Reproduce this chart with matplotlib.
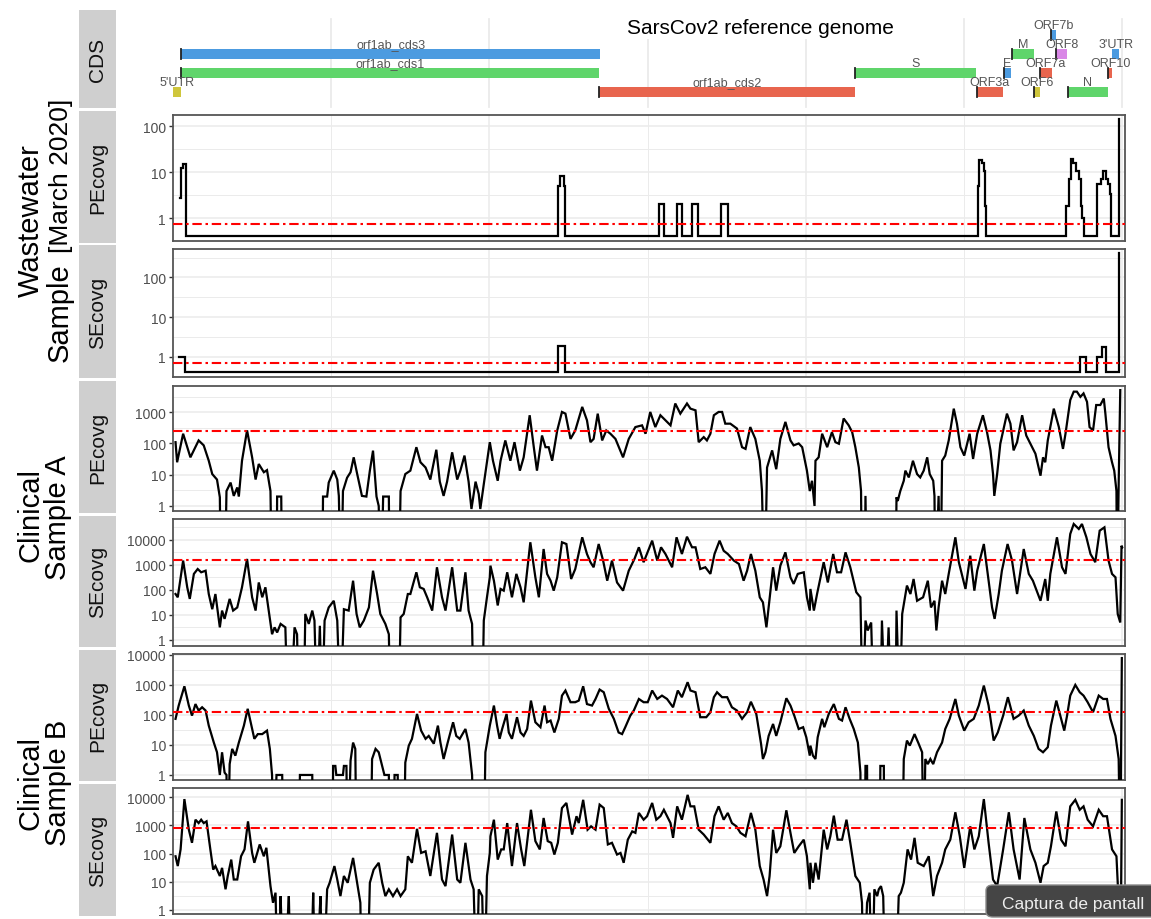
import matplotlib

matplotlib.use("Agg")
import matplotlib.pyplot as plt
import numpy as np
from matplotlib.patches import Rectangle, FancyBboxPatch
from matplotlib.ticker import FixedLocator, FixedFormatter, NullLocator

plt.rcParams['font.family'] = ['Liberation Sans', 'DejaVu Sans']

# ── reference genome features (bp) ────────────────────────────────────────
cds_names = ["5'UTR", "orf1ab_cds3", "orf1ab_cds1", "orf1ab_cds2", "S", "ORF3a", "E",
             "M", "ORF6", "ORF7a", "ORF7b", "ORF8", "N", "ORF10", "3'UTR"]
cds_start = [1, 266, 266, 13468, 21563, 25393, 26245, 26523, 27202, 27394, 27756,
             27894, 28274, 29558, 29675]
cds_end = [265, 13483, 13468, 21555, 25384, 26220, 26472, 27191, 27387, 27759, 27887,
           28259, 29533, 29674, 29903]
cds_row = [1, 3, 2, 1, 2, 1, 2, 3, 1, 2, 4, 3, 1, 2, 3]

COL = {"5'UTR": "#CFC63C", "orf1ab_cds3": "#4C9BE0", "orf1ab_cds1": "#5FD56B",
       "orf1ab_cds2": "#E8654E", "S": "#5FD56B", "ORF3a": "#E8654E", "E": "#4C9BE0",
       "M": "#5FD56B", "ORF6": "#CFC63C", "ORF7a": "#E8654E", "ORF7b": "#4C9BE0",
       "ORF8": "#D987E6", "N": "#5FD56B", "ORF10": "#E8654E", "3'UTR": "#4C9BE0"}

# ── wastewater coverage (bp, depth; step data) ───────────────────────────
ww_pe_pos = [234, 265, 329, 423, 12180, 12225, 12370, 12400, 15350, 15500, 15910,
             16070, 16410, 16600, 17300, 17550, 25440, 25480, 25570, 25620, 25670,
             25700, 28231, 28304, 28358, 28443, 28516, 28620, 28674, 28728, 28778,
             29202, 29306, 29391, 29464, 29537, 29600, 29644, 29890, 29903]
ww_pe_cov = [2.7, 12, 15, 0, 5, 8, 5, 0, 2, 0, 2, 0, 2, 0, 2, 0, 5, 18, 16, 10.7,
             1.85, 0, 1.85, 7, 19, 16, 10.7, 7, 1.85, 1, 0, 5.5, 7, 10.7, 7, 5.5, 3.3,
             0, 141, 141]
ww_se_pos = [200, 392, 12180, 12400, 28652, 28832, 29202, 29360, 29464, 29890, 29903]
ww_se_cov = [1, 0, 1.9, 0, 1, 0, 1, 1.8, 0, 415, 415]

# ── clinical sample A (kb, depth) ────────────────────────────────────────
ca_pe_kb = [0.08, 0.13, 0.32, 0.55, 0.81, 0.97, 1.13, 1.24, 1.39, 1.48, 1.52, 1.63, 1.69,
            1.82, 1.92, 2.03, 2.08, 2.18, 2.34, 2.50, 2.61, 2.71, 2.87, 2.97, 3.08, 3.13,
            3.27, 3.29, 3.42, 3.45, 4.71, 4.74, 4.87, 4.92, 5.08, 5.19, 5.24, 5.31, 5.37,
            5.50, 5.61, 5.71, 5.82, 5.97, 6.11, 6.22, 6.32, 6.43, 6.50, 6.57, 6.64, 6.82,
            6.85, 7.13, 7.19, 7.34, 7.50, 7.69, 7.82, 7.98, 8.13, 8.32, 8.43, 8.55, 8.66,
            8.82, 8.98, 9.08, 9.21, 9.34, 9.43, 9.56, 9.66, 9.71, 9.82, 10.01,
            10.11, 10.26, 10.35, 10.50, 10.66, 10.79, 10.96, 11.08, 11.27, 11.40, 11.50,
            11.66, 11.77, 11.87, 11.98, 12.14, 12.29, 12.40, 12.56, 12.71, 12.93, 13.08,
            13.19, 13.29, 13.42, 13.56, 13.69, 13.82, 13.98, 14.22, 14.40, 14.61, 14.82,
            14.93, 15.08, 15.24, 15.40, 15.56, 15.72, 15.87, 16.03, 16.24, 16.35, 16.51,
            16.61, 16.77, 16.87, 16.98, 17.09, 17.24, 17.35, 17.45, 17.61, 17.82, 17.98,
            18.09, 18.24, 18.40, 18.54, 18.61, 18.69, 18.77, 18.93, 19.06, 19.19, 19.35,
            19.51, 19.61, 19.77, 19.88, 20.03, 20.12,
            20.19, 20.27, 20.30, 20.40, 20.51, 20.67, 20.82, 20.93, 21.04, 21.19, 21.35,
            21.46, 21.56, 21.67, 21.74, 21.77, 21.85, 21.88, 21.93, 22.83, 22.86, 22.90,
            22.98, 23.09, 23.14, 23.25, 23.38, 23.51, 23.61, 23.72, 23.83, 23.91, 24.02,
            24.06, 24.09, 24.19, 24.25, 24.30, 24.40, 24.51, 24.67, 24.77, 24.88, 25.00,
            25.17, 25.28, 25.41, 25.59, 25.72, 25.83, 25.91, 25.95, 26.04, 26.14, 26.35,
            26.46, 26.56, 26.67, 26.83, 26.96, 27.09, 27.25, 27.41, 27.49, 27.56, 27.64,
            27.83, 27.99, 28.12, 28.20, 28.35, 28.46, 28.56, 28.67, 28.77, 28.88, 28.96,
            29.07, 29.17, 29.30, 29.41, 29.46, 29.56, 29.67, 29.74, 29.81, 29.83, 29.88,
            29.93]
ca_pe_cov = [110, 25, 205, 36, 125, 87, 28, 10.5, 7, 1.9, 0, 0, 3, 5.6, 2.1, 3.9, 2, 28,
             263, 36, 7, 22, 12, 14, 3, 0, 0, 2, 2, 0, 0, 2, 2, 5.6, 13.5, 7, 2.1, 0, 3,
             8, 12, 36, 10.5, 2.1, 2, 13.5, 59, 2, 1, 0, 2, 2, 0, 0, 3, 10.5, 13.5, 76,
             25, 17, 7, 63, 6, 2.1, 6, 52, 7, 13.5, 41, 6, 0.8, 6, 2.4, 0.8, 5, 110,
             28, 6.4, 28, 125, 28, 110, 13.5, 36, 800, 76, 13.5, 180, 76, 76, 28, 260,
             1020, 900, 140, 260, 1480, 550, 110, 140, 900, 125, 260, 205, 140, 36, 140,
             335, 380, 205, 1020, 335, 800, 550, 380, 1900, 900, 1900, 1300, 1150, 110,
             160, 125, 205, 800, 1020, 1020, 430, 430, 300, 76, 67, 335, 140, 28, 3, 0,
             17, 60, 15, 140, 490, 125, 87, 100, 76, 13.5, 3,
             6.4, 1, 28, 36, 205, 76, 230, 110, 98, 630, 380, 230, 76, 17, 3, 0, 0, 2.1,
             0, 0, 1.9, 1.45, 3, 6.4, 13.5, 8.2, 28, 10.5, 8.2, 13.5, 36, 10.5, 6.4, 2.1,
             0, 2.1, 0, 28, 41, 125, 1300, 430, 76, 41, 205, 32, 205, 800, 230, 60, 10.5,
             2.1, 10.5, 98, 900, 430, 60, 110, 800, 180, 98, 47, 9.3, 36, 25, 125, 1300,
             335, 67, 205, 2450, 4550, 4550, 3100, 4000, 2150, 335, 260, 1700, 1700, 2750,
             900, 76, 25, 13.5, 3, 0, 5, 5100]

ca_se_kb = [0.08, 0.15, 0.32, 0.45, 0.53, 0.66, 0.78, 0.89, 1.03, 1.13, 1.24, 1.34, 1.48,
            1.55, 1.63, 1.79, 1.90, 2.03, 2.18, 2.34, 2.50, 2.61, 2.71, 2.82, 2.92, 3.06,
            3.13, 3.21, 3.29, 3.40, 3.55, 3.63, 3.71, 3.84, 3.92, 3.97, 4.13, 4.18, 4.29,
            4.40, 4.47, 4.55, 4.64, 4.71, 4.79, 4.92, 5.08, 5.19, 5.29, 5.40, 5.55, 5.69,
            5.80, 5.90, 6.03, 6.19, 6.32, 6.45, 6.55, 6.71, 6.82, 6.87, 7.13, 7.19, 7.29,
            7.42, 7.50, 7.69, 7.80, 7.92, 8.03, 8.19, 8.34, 8.50, 8.61, 8.82, 8.98, 9.08,
            9.24, 9.34, 9.45, 9.50, 9.77, 9.82, 9.92, 10.01,
            10.03, 10.14, 10.26, 10.35, 10.45, 10.56, 10.71, 10.85, 10.98, 11.08, 11.29,
            11.45, 11.56, 11.71, 11.82, 11.93, 12.03, 12.14, 12.29, 12.43, 12.58, 12.71,
            12.93, 13.08, 13.19, 13.29, 13.45, 13.59, 13.72, 13.87, 14.03, 14.22, 14.40,
            14.58, 14.72, 14.87, 15.14, 15.30, 15.42, 15.56, 15.77, 15.91, 16.08, 16.24,
            16.40, 16.51, 16.66, 16.82, 16.98, 17.11, 17.27, 17.40, 17.53, 17.72, 17.88,
            18.03, 18.14, 18.26, 18.40, 18.54, 18.64, 18.75, 18.82, 18.96, 19.06, 19.19,
            19.35, 19.51, 19.61, 19.74, 19.93, 20.03, 20.12,
            20.14, 20.25, 20.35, 20.46, 20.56, 20.69, 20.86, 20.98, 21.11, 21.25, 21.40,
            21.59, 21.72, 21.79, 21.88, 21.95, 22.06, 22.14, 22.35, 22.40, 22.51, 22.61,
            22.69, 22.83, 22.86, 22.96, 23.04, 23.19, 23.30, 23.40, 23.51, 23.70, 23.85,
            23.95, 24.06, 24.12, 24.19, 24.30, 24.40, 24.51, 24.72, 24.83, 25.04, 25.19,
            25.32, 25.41, 25.62, 25.77, 25.88, 25.96, 26.09, 26.19, 26.37, 26.51, 26.67,
            26.88, 27.04, 27.17, 27.41, 27.56, 27.64, 27.72, 27.93, 28.09, 28.20, 28.35,
            28.46, 28.62, 28.72, 28.86, 28.99, 29.14, 29.28, 29.43, 29.56, 29.67, 29.78,
            29.85, 29.93, 29.97, 29.99]
ca_se_cov = [69, 51, 1500, 128, 44, 440, 690, 510, 590, 69, 17, 69, 3.2, 15, 7, 44, 15,
             20, 128, 1740, 51, 15, 200, 51, 128, 7, 1.7, 3.2, 2, 4.4, 3.2, 0, 0, 3.2,
             1.7, 0, 0, 11, 4.4, 15, 6, 0, 3.7, 0, 6, 20, 37, 6, 0, 17, 15, 235, 11, 3.2,
             6, 20, 590, 69, 11, 4.4, 1.7, 0, 0, 8, 11, 69, 69, 510, 128, 110, 51, 15,
             810, 51, 15, 810, 15, 15, 510, 15, 4.4, 0, 0, 6, 51, 320,
             940, 235, 24, 110, 94, 510, 51, 440, 128, 32, 8100, 320, 51, 4350, 440, 235,
             94, 320, 8100, 6900, 275, 690, 12800, 2750, 1290, 810, 6900, 1500, 235,
             1500, 200, 94, 590, 1740, 5100, 1290, 9400, 1500, 5100, 2750, 810, 12800,
             2750, 13500, 5100, 5100, 690, 810, 440, 2750, 9400, 3700, 2750, 1500, 1100,
             235, 590, 2750, 590, 51, 32, 3.2, 20, 810, 94, 940, 3200, 320, 175, 440, 510,
             51, 15,
             110, 15, 69, 320, 1290, 200, 2750, 510, 510, 3200, 810, 81, 51, 0, 6, 2.4, 5,
             0, 0, 6, 0, 3.2, 0, 0, 15, 0, 11, 150, 69, 275, 37, 51, 235, 20, 37, 2.4, 20,
             235, 69, 440, 12800, 1290, 110, 2350, 94, 590, 6900, 235, 20, 7, 69, 590,
             6900, 1500, 69, 4350, 440, 235, 37, 275, 37, 440, 12800, 810, 440, 17400,
             43600, 27600, 43600, 12800, 2750, 1290, 23600, 32000, 1500, 440, 320, 11, 5,
             5900, 5100]

# ── clinical sample B (kb, depth) ────────────────────────────────────────
cb_pe_kb = [0.08, 0.18, 0.36, 0.50, 0.60, 0.71, 0.81, 0.92, 1.03, 1.13, 1.29, 1.39, 1.48,
            1.55, 1.63, 1.69, 1.73, 1.79, 1.87, 1.97, 2.08, 2.24, 2.36, 2.50, 2.57, 2.68,
            2.82, 2.97, 3.06, 3.13, 3.18, 3.27, 3.45, 3.50, 3.97, 4.01, 4.40, 4.43, 5.03,
            5.06, 5.13, 5.16, 5.37, 5.40, 5.48, 5.52, 5.61, 5.69, 5.76, 5.80, 6.24, 6.29,
            6.40, 6.50, 6.61, 6.68, 6.82, 6.85, 6.98, 7.00, 7.10, 7.13, 7.29, 7.34, 7.45,
            7.55, 7.71, 7.84, 7.98, 8.08, 8.24, 8.37, 8.45, 8.55, 8.68, 8.85, 8.95, 9.06,
            9.24, 9.34, 9.45, 9.52, 9.82, 9.87, 10.01,
            10.14, 10.24, 10.32, 10.40, 10.54, 10.61, 10.71, 10.87, 10.98, 11.08, 11.19,
            11.31, 11.45, 11.61, 11.74, 11.82, 11.93, 12.05, 12.19, 12.29, 12.40, 12.56,
            12.71, 12.82, 12.96, 13.08, 13.24, 13.35, 13.48, 13.61, 13.77, 13.93, 14.08,
            14.19, 14.29, 14.45, 14.56, 14.72, 14.87, 15.00, 15.14, 15.30, 15.45, 15.61,
            15.80, 15.95, 16.08, 16.26, 16.35, 16.51, 16.66, 16.85, 16.98, 17.09, 17.19,
            17.35, 17.51, 17.66, 17.82, 17.98, 18.14, 18.26, 18.43, 18.58, 18.64, 18.72,
            18.82, 18.96, 19.06, 19.19, 19.38, 19.51, 19.63, 19.77, 19.91, 20.01, 20.12,
            20.14, 20.22, 20.30, 20.37, 20.51, 20.58, 20.72, 20.88, 21.04, 21.14, 21.25,
            21.38, 21.51, 21.64, 21.72, 21.74, 21.85, 21.88, 21.93, 21.95, 22.33, 22.35,
            22.46, 22.48, 23.04, 23.09, 23.19, 23.28, 23.43, 23.56, 23.67, 23.72, 23.77,
            23.85, 23.93, 24.02, 24.14, 24.30, 24.40, 24.54, 24.72, 24.83, 25.00, 25.14,
            25.30, 25.46, 25.62, 25.77, 25.93, 26.06, 26.23, 26.38, 26.56, 26.72, 26.88,
            27.04, 27.20, 27.35, 27.49, 27.64, 27.74, 27.91, 28.06, 28.16, 28.25, 28.35,
            28.51, 28.65, 28.77, 28.90, 29.07, 29.25, 29.39, 29.51, 29.62, 29.78, 29.88,
            29.93, 29.98]
cb_pe_cov = [74, 205, 900, 205, 95, 230, 140, 180, 140, 44, 12, 5.7, 1, 5.7, 1.2, 1, 0,
             2.3, 7.4, 4.4, 12, 44, 160, 34, 16, 23, 23, 30, 7.4, 1, 0, 1, 1, 0, 0, 1, 1,
             0, 0, 2, 2, 1, 1, 2, 2, 0, 3, 12, 7.4, 0, 0, 3.4, 7.4, 5.7, 2, 1, 1, 0, 0,
             1, 1, 0, 0, 2.6, 9.5, 16, 108, 30, 16, 20, 11, 44, 12, 3.4, 12, 57, 20, 16,
             34, 12, 1, 0, 0, 5.7, 44,
             205, 44, 16, 34, 108, 26, 16, 84, 26, 20, 34, 300, 57, 39, 205, 57, 65, 26,
             74, 440, 650, 265, 265, 300, 900, 230, 205, 340, 700, 570, 160, 74, 26, 23,
             39, 95, 140, 340, 265, 265, 650, 340, 440, 340, 180, 650, 390, 1230, 650,
             570, 84, 84, 123, 390, 570, 390, 390, 180, 140, 74, 123, 275, 108, 11, 3.4,
             5.7, 20, 50, 20, 57, 360, 205, 95, 34, 39, 18, 4.4,
             9.5, 4.4, 3.4, 18, 74, 39, 108, 230, 74, 65, 180, 74, 34, 12, 1.2, 0, 0, 2, 2,
             0, 0, 2, 2, 0, 0, 3.4, 14, 9.5, 23, 11, 5.7, 0, 3.4, 2.3, 3.4, 2.3, 5.7, 12,
             34, 74, 340, 95, 30, 57, 74, 205, 950, 205, 14, 26, 95, 390, 74, 95, 140, 44,
             20, 7.4, 5.7, 8.4, 44, 300, 74, 30, 95, 440, 1000, 570, 440, 265, 123, 440,
             340, 340, 74, 20, 3.4, 0, 7800]

cb_se_kb = [0.08, 0.15, 0.24, 0.36, 0.50, 0.60, 0.71, 0.81, 0.89, 0.97, 1.06, 1.18, 1.27,
            1.34, 1.48, 1.55, 1.66, 1.73, 1.84, 1.92, 2.03, 2.15, 2.26, 2.37, 2.50, 2.57,
            2.74, 2.87, 2.95, 3.08, 3.16, 3.24, 3.31, 3.40, 3.50, 3.66, 3.73, 4.34, 4.43,
            4.50, 4.66, 4.74, 4.87, 4.95, 5.10, 5.19, 5.29, 5.40, 5.52, 5.69, 5.80, 5.92,
            5.97, 6.13, 6.22, 6.34, 6.50, 6.61, 6.71, 6.82, 6.95, 7.08, 7.19, 7.34, 7.42,
            7.55, 7.71, 7.84, 7.98, 8.13, 8.34, 8.50, 8.61, 8.82, 8.98, 9.08, 9.24, 9.40,
            9.50, 9.59, 9.66, 9.77, 9.84, 9.92, 10.01,
            10.03, 10.14, 10.26, 10.37, 10.45, 10.56, 10.71, 10.87, 11.00, 11.10, 11.31,
            11.45, 11.59, 11.71, 11.84, 11.95, 12.05, 12.16, 12.29, 12.43, 12.61, 12.75,
            12.82, 12.96, 13.10, 13.21, 13.35, 13.48, 13.61, 13.74, 13.87, 14.03, 14.14,
            14.24, 14.37, 14.51, 14.61, 14.72, 14.87, 14.98, 15.14, 15.27, 15.40, 15.51,
            15.72, 15.80, 15.93, 16.08, 16.26, 16.35, 16.47, 16.61, 16.77, 16.98, 17.11,
            17.24, 17.40, 17.53, 17.66, 17.80, 17.93, 18.09, 18.26, 18.40, 18.54, 18.66,
            18.77, 18.85, 18.96, 19.06, 19.19, 19.38, 19.51, 19.63, 19.77, 19.93, 20.03,
            20.12,
            20.14, 20.22, 20.30, 20.40, 20.56, 20.67, 20.77, 20.88, 21.00, 21.14, 21.28,
            21.40, 21.56, 21.70, 21.77, 21.82, 21.93, 22.01, 22.09, 22.16, 22.25, 22.30,
            22.37, 22.44, 22.51, 22.83, 22.93, 23.00, 23.09, 23.21, 23.32, 23.43, 23.53,
            23.72, 23.88, 24.02, 24.14, 24.30, 24.40, 24.56, 24.72, 24.86, 25.00, 25.19,
            25.32, 25.46, 25.62, 25.77, 25.91, 26.04, 26.23, 26.41, 26.56, 26.75, 26.90,
            27.09, 27.25, 27.41, 27.51, 27.64, 27.74, 27.91, 28.06, 28.20, 28.35, 28.51,
            28.65, 28.77, 28.90, 29.07, 29.25, 29.39, 29.51, 29.67, 29.81, 29.88, 29.93,
            29.98]
cb_se_cov = [80, 36, 140, 8500, 700, 240, 1580, 1200, 1580, 1200, 1380, 140, 27, 36, 16,
             31, 5.4, 16, 61, 12, 12, 80, 140, 1380, 105, 47, 210, 80, 160, 7, 1.8, 4.1,
             0, 3.1, 0, 3.1, 0, 0, 4.1, 0, 3.1, 0, 5.4, 9.2, 36, 12, 3.1, 16, 9.2, 70, 12,
             1.8, 0, 0, 9.2, 27, 47, 9.2, 3.1, 5.4, 3.1, 5.4, 3.1, 5.4, 80, 47, 750, 105,
             120, 16, 540, 12, 7, 470, 12, 9.2, 240, 12, 5.4, 0, 5.4, 3.1, 0, 16, 105,
             410, 1580, 61, 140, 140, 1200, 36, 1200, 140, 36, 3550, 275, 140, 1820, 275,
             240, 92, 240, 4100, 6200, 470, 2100, 1200, 8000, 700, 920, 700, 5400, 4100,
             210, 240, 92, 105, 47, 310, 610, 540, 2750, 1580, 2100, 6200, 1580, 2100,
             3550, 1200, 360, 4700, 1580, 12000, 4700, 4700, 700, 470, 240, 2100, 4700,
             1580, 2750, 1200, 920, 540, 410, 2750, 700, 36, 12, 3.1, 16, 700, 105, 180,
             3400, 540, 105, 180, 310, 80, 5.4,
             47, 9.2, 47, 12, 700, 140, 410, 2200, 310, 310, 1580, 240, 16, 9.2, 1.8, 0,
             1.8, 4.1, 0, 5.4, 3.1, 5.4, 7, 3.1, 0, 0, 3.1, 4.1, 9.2, 140, 61, 360, 47, 36,
             80, 3.1, 16, 47, 140, 310, 2900, 410, 31, 920, 140, 410, 8500, 240, 12, 7,
             140, 2900, 140, 12, 1820, 140, 47, 9.2, 36, 47, 180, 3100, 310, 180, 4700,
             8000, 3550, 4700, 1580, 920, 3550, 2100, 2100, 140, 80, 1.8, 0, 8000]

# mean-coverage thresholds (red dash-dot lines)
thr = {"ww_pe": 0.74, "ww_se": 0.69, "ca_pe": 250, "ca_se": 1650, "cb_pe": 125,
       "cb_se": 800}

# ── layout helpers (pixel boxes) ──────────────────────────────────────────
W, H = 1151, 920
fig = plt.figure(figsize=(W / 100, H / 100), dpi=100)
X0, X1 = 173, 1125
XMAX = 30080
GRID = "#EBEBEB"


def fbox(top, bottom, left=X0, right=X1):
    return [left / W, 1 - bottom / H, (right - left) / W, (bottom - top) / H]


def cov_panel(top, bottom, pos, cov, t, ylim, ticks, steps=False, floor=1e-3):
    ax = fig.add_axes(fbox(top, bottom))
    ax.set_yscale("log")
    ax.set_xlim(0, XMAX)
    ax.set_ylim(*ylim)
    for k in range(-1, 6):
        for v, lw in ((10.0 ** k, 1.1), (10.0 ** (k + 0.5), 0.7)):
            if ylim[0] < v < ylim[1]:
                ax.axhline(v, color=GRID, lw=lw, zorder=0)
    for g in range(5000, 30001, 5000):
        ax.axvline(g, color=GRID, lw=1.1 if g % 10000 == 0 else 0.7, zorder=0)
    y = np.where(np.asarray(cov) > 0, cov, floor)
    ax.plot(pos, y, color="black", lw=1.6, drawstyle="steps-post" if steps else "default",
            zorder=3, solid_joinstyle="miter")
    ax.axhline(t, color="#FF0000", lw=1.5, ls=(0, (4.5, 1.8, 1.2, 1.8)), zorder=4)
    ax.yaxis.set_major_locator(FixedLocator(ticks))
    ax.yaxis.set_major_formatter(FixedFormatter([f"{v:d}" for v in ticks]))
    ax.yaxis.set_minor_locator(NullLocator())
    ax.tick_params(axis="y", length=3, width=1, color="#333333", labelsize=10,
                   labelcolor="#4D4D4D", pad=2)
    ax.set_xticks([])
    for s in ax.spines.values():
        s.set_color("#555555")
        s.set_linewidth(1.3)
    return ax


def strip(label, top, bottom):
    fig.add_artist(Rectangle((79 / W, 1 - bottom / H), (116 - 79) / W, (bottom - top) / H,
                             transform=fig.transFigure, facecolor="#CFCFCF",
                             edgecolor="none"))
    fig.text(97.5 / W, 1 - (top + bottom) / 2 / H, label, rotation=90, ha="center",
             va="center", fontsize=15, color="#111111")


# ── CDS track ────────────────────────────────────────────────────────────
axg = fig.add_axes(fbox(11, 110))
axg.set_xlim(0, XMAX)
axg.set_ylim(0.105, 5.316)
axg.axis("off")
for g in range(5000, 30001, 5000):
    axg.plot([g, g], [0.21, 4.84], color=GRID, lw=1.3, zorder=0)
for name, s, e, r in zip(cds_names, cds_start, cds_end, cds_row):
    axg.add_patch(Rectangle((s, r - 0.24), e - s, 0.48, facecolor=COL[name],
                            edgecolor="none", zorder=2))
    if "UTR" not in name:
        axg.plot([s, s], [r - 0.24, r + 0.24], color="#222222", lw=1.3, zorder=3)
    axg.text((s + e) / 2, r + 0.52, name, ha="center", va="center", fontsize=9,
             color="#555555", zorder=4)
axg.text(18560, 4.42, "SarsCov2 reference genome", ha="center", va="center", fontsize=15,
         color="black", zorder=5,
         bbox=dict(facecolor="white", edgecolor="none", pad=1.5))

# ── coverage panels ──────────────────────────────────────────────────────
cov_panel(116, 242, ww_pe_pos, ww_pe_cov, thr["ww_pe"], (0.316, 174), [1, 10, 100],
          steps=True, floor=0.41)
cov_panel(249.5, 377.5, ww_se_pos, ww_se_cov, thr["ww_se"], (0.316, 537), [1, 10, 100],
          steps=True, floor=0.41)
cov_panel(387, 512, np.array(ca_pe_kb) * 1000, ca_pe_cov, thr["ca_pe"], (0.69, 6900),
          [1, 10, 100, 1000])
cov_panel(520, 647, np.array(ca_se_kb) * 1000, ca_se_cov, thr["ca_se"], (0.575, 69000),
          [1, 10, 100, 1000, 10000])
cov_panel(655, 781, np.array(cb_pe_kb) * 1000, cb_pe_cov, thr["cb_pe"], (0.68, 10700),
          [1, 10, 100, 1000, 10000])
cov_panel(789, 915, np.array(cb_se_kb) * 1000, cb_se_cov, thr["cb_se"], (0.72, 21000),
          [1, 10, 100, 1000, 10000])

# ── strips and row labels ────────────────────────────────────────────────
strip("CDS", 11, 109)
strip("PEcovg", 112, 243.5)
strip("SEcovg", 246, 379)
strip("PEcovg", 382, 514)
strip("SEcovg", 516.5, 648)
strip("PEcovg", 650.5, 782)
strip("SEcovg", 784.5, 917)

fig.text(31 / W, 1 - 221 / H, "Wastewater", rotation=90, ha="center", va="center",
         fontsize=21)
fig.text(68 / W, 1 - 362 / H, "Sample", rotation=90, ha="left", va="baseline",
         rotation_mode="anchor", fontsize=21)
fig.text(68 / W, 1 - 253 / H, "[March 2020]", rotation=90, ha="left", va="baseline",
         rotation_mode="anchor", fontsize=19)
fig.text(31 / W, 1 - 515 / H, "Clinical", rotation=90, ha="center", va="center",
         fontsize=21)
fig.text(58 / W, 1 - 518 / H, "Sample A", rotation=90, ha="center", va="center",
         fontsize=21)
fig.text(31 / W, 1 - 783 / H, "Clinical", rotation=90, ha="center", va="center",
         fontsize=21)
fig.text(58 / W, 1 - 783 / H, "Sample B", rotation=90, ha="center", va="center",
         fontsize=21)

# screenshot tooltip overlay in the reference (its text is cut at the image edge)
fig.add_artist(FancyBboxPatch((986 / W, 1 - 918 / H), 180 / W, 32 / H,
                              boxstyle="round,pad=0,rounding_size=0.006",
                              transform=fig.transFigure, facecolor="#454545",
                              edgecolor="#8A8A8A", lw=1.0))
fig.text(1002 / W, 1 - 909 / H, "Captura de pantall", ha="left", va="baseline",
         fontsize=12.5, color="#EDEDED")

fig.savefig("out.png", dpi=100)
